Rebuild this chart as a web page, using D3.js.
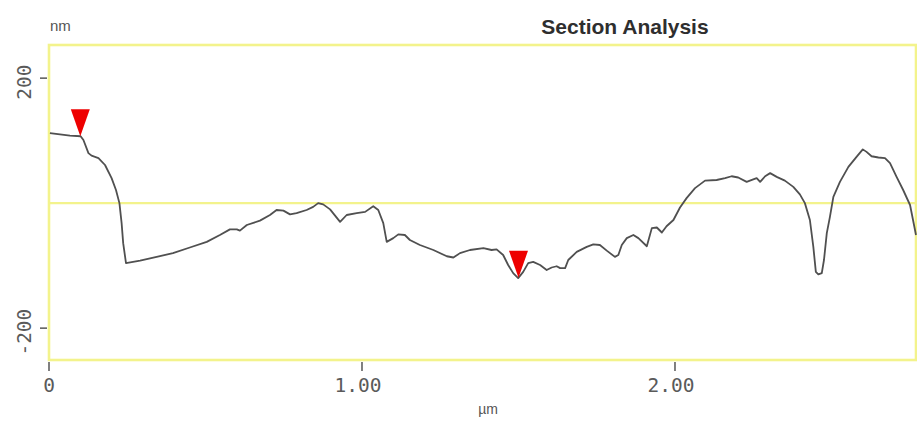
<!DOCTYPE html>
<html>
<head>
<meta charset="utf-8">
<script src="https://cdn.jsdelivr.net/npm/d3@7/dist/d3.min.js"></script>
<style>
  html, body { margin: 0; padding: 0; background: #fff; }
  svg { display: block; }
</style>
</head>
<body>
<svg id="chart" width="917" height="421"></svg>
<script>
// Surface profile along the section line (distance in µm, height in nm)
const distance = [0.003, 0.035, 0.067, 0.101, 0.110, 0.126, 0.136, 0.158, 0.179, 0.200,
  0.214, 0.225, 0.232, 0.237, 0.246, 0.291, 0.344, 0.396, 0.450, 0.504,
  0.546, 0.578, 0.600, 0.610, 0.632, 0.674, 0.706, 0.727, 0.749, 0.770,
  0.791, 0.823, 0.844, 0.860, 0.876, 0.898, 0.930, 0.951, 0.983, 1.010,
  1.036, 1.052, 1.068, 1.079, 1.100, 1.116, 1.137, 1.153, 1.185, 1.228,
  1.271, 1.292, 1.313, 1.345, 1.388, 1.414, 1.430, 1.451, 1.467, 1.483,
  1.499, 1.515, 1.531, 1.547, 1.569, 1.590, 1.606, 1.622, 1.633, 1.649,
  1.659, 1.686, 1.718, 1.739, 1.760, 1.782, 1.808, 1.819, 1.830, 1.846,
  1.867, 1.883, 1.910, 1.926, 1.942, 1.958, 1.973, 1.995, 2.016, 2.037,
  2.064, 2.096, 2.133, 2.160, 2.181, 2.202, 2.229, 2.250, 2.261, 2.272,
  2.288, 2.304, 2.325, 2.351, 2.378, 2.399, 2.415, 2.431, 2.442, 2.450,
  2.458, 2.469, 2.476, 2.485, 2.495, 2.506, 2.527, 2.554, 2.580, 2.600,
  2.612, 2.628, 2.650, 2.671, 2.687, 2.708, 2.729, 2.751, 2.770];
const height = [112, 110, 108, 107, 101, 80, 76, 72, 61, 40,
  21, 0, -32, -64, -96, -92, -86, -80, -71, -62,
  -51, -42, -42, -44, -35, -28, -19, -11, -12, -18,
  -16, -11, -6, 0, -2, -10, -30, -19, -16, -14,
  -5, -11, -32, -62, -56, -50, -51, -59, -67, -75,
  -85, -87, -80, -75, -72, -75, -74, -83, -99, -112,
  -120, -110, -96, -94, -99, -107, -103, -101, -104, -104,
  -91, -78, -70, -66, -67, -76, -86, -83, -67, -56,
  -51, -56, -69, -40, -39, -47, -37, -27, -7, 8,
  24, 36, 37, 40, 43, 41, 34, 38, 40, 34,
  43, 48, 42, 36, 26, 14, 0, -27, -70, -110,
  -114, -112, -91, -48, -22, 10, 34, 58, 74, 86,
  82, 75, 73, 72, 64, 42, 21, -3, -51];

// Cursor positions (µm)
const cursorX = [0.10, 1.50];

// Axis ticks
const xTicks = [0, 1, 2];
const xTickLabels = ["0", "1.00", "2.00"];
const yTicks = [200, -200];
const yTickLabels = ["200", "-200"];

const xDomain = [0, 2.77];
const yDomain = [-251, 253];

const svg = d3.select("#chart");
const x = d3.scaleLinear().domain(xDomain).range([49, 916]);
const y = d3.scaleLinear().domain(yDomain).range([360, 45]);

const frameColor = "#f3f38c";
const inkColor = "#4a4a4a";
const labelColor = "#5a5a5a";

// Plot frame
svg.append("rect")
  .attr("x", x(xDomain[0])).attr("y", y(yDomain[1]))
  .attr("width", x(xDomain[1]) - x(xDomain[0]))
  .attr("height", y(yDomain[0]) - y(yDomain[1]))
  .attr("fill", "none")
  .attr("stroke", frameColor)
  .attr("stroke-width", 2.6);

// Zero reference line
svg.append("line")
  .attr("x1", x(xDomain[0])).attr("x2", x(xDomain[1]))
  .attr("y1", y(0)).attr("y2", y(0))
  .attr("stroke", frameColor)
  .attr("stroke-width", 2.4);

// Y ticks and rotated labels
const yAxisG = svg.append("g");
yAxisG.selectAll("line.ytick").data(yTicks).join("line")
  .attr("class", "ytick")
  .attr("x1", 40).attr("x2", 47)
  .attr("y1", d => y(d)).attr("y2", d => y(d))
  .attr("stroke", inkColor).attr("stroke-width", 1.4);
yAxisG.selectAll("text.ylab").data(yTicks).join("text")
  .attr("class", "ylab")
  .attr("transform", d => `translate(31,${y(d) + 4}) rotate(-90)`)
  .attr("text-anchor", "middle")
  .attr("font-family", "DejaVu Sans Mono, monospace")
  .attr("font-size", 19.5)
  .attr("fill", labelColor)
  .text((d, i) => yTickLabels[i]);

// X ticks and labels
const xAxisG = svg.append("g");
xAxisG.selectAll("line.xtick").data(xTicks).join("line")
  .attr("class", "xtick")
  .attr("x1", d => x(d)).attr("x2", d => x(d))
  .attr("y1", 362).attr("y2", 371)
  .attr("stroke", inkColor).attr("stroke-width", 1.4);
xAxisG.selectAll("text.xlab").data(xTicks).join("text")
  .attr("class", "xlab")
  .attr("x", (d, i) => x(d) - (i === 0 ? 0 : 4)).attr("y", 392)
  .attr("text-anchor", "middle")
  .attr("font-family", "DejaVu Sans Mono, monospace")
  .attr("font-size", 19.5)
  .attr("fill", labelColor)
  .text((d, i) => xTickLabels[i]);

// Units and title
svg.append("text")
  .attr("x", 50).attr("y", 31)
  .attr("font-family", "Liberation Sans, Arial, sans-serif")
  .attr("font-size", 15).attr("fill", "#555")
  .text("nm");
svg.append("text")
  .attr("x", 488).attr("y", 414)
  .attr("text-anchor", "middle")
  .attr("font-family", "Liberation Sans, Arial, sans-serif")
  .attr("font-size", 14).attr("fill", "#555")
  .text("µm");
svg.append("text")
  .attr("x", 625).attr("y", 34)
  .attr("text-anchor", "middle")
  .attr("font-family", "Liberation Sans, Arial, sans-serif")
  .attr("font-size", 21)
  .attr("font-weight", "bold")
  .attr("fill", "#2e2e2e")
  .text("Section Analysis");

// Profile curve
const profile = distance.map((d, i) => ({ x: d, y: height[i] }));
svg.append("path")
  .datum(profile)
  .attr("fill", "none")
  .attr("stroke", "#505050")
  .attr("stroke-width", 1.8)
  .attr("stroke-linejoin", "round")
  .attr("d", d3.line().x(d => x(d.x)).y(d => y(d.y)));

// Cursor markers: downward triangles pointing at the profile
const heightAt = d3.scaleLinear().domain(distance).range(height);
svg.selectAll("path.cursor").data(cursorX).join("path")
  .attr("class", "cursor")
  .attr("fill", "#ee0000")
  .attr("d", d => {
    const px = x(d), py = y(heightAt(d));
    return `M${px - 9.5},${py - 27} L${px + 9.5},${py - 27} L${px},${py} Z`;
  });
</script>
</body>
</html>
